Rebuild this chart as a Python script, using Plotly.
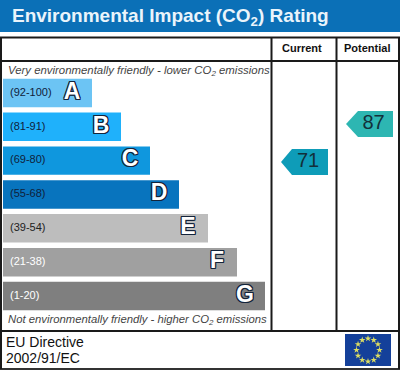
import numpy as np
import plotly.graph_objects as go

title = "Environmental Impact (CO<sub>2</sub>) Rating"
column_labels = ["Current", "Potential"]
letters = ["A", "B", "C", "D", "E", "F", "G"]
ranges = ["(92-100)", "(81-91)", "(69-80)", "(55-68)", "(39-54)", "(21-38)", "(1-20)"]
bar_lengths = [89, 118, 147, 176, 205, 234, 262]
bar_colors = ["#6CC4F4", "#1FB1FB", "#0F97DE", "#0874BE", "#BDBDBD", "#A0A0A0", "#7F7F7F"]
range_colors = ["#10213A", "#10213A", "#10213A", "#10213A", "#222222", "#FFFFFF", "#FFFFFF"]
current_score = 71
potential_score = 87
top_note = "Very environmentally friendly - lower CO<sub>2</sub> emissions"
bottom_note = "Not environmentally friendly - higher CO<sub>2</sub> emissions"
footer_lines = ["EU Directive", "2002/91/EC"]

W, H = 400, 370
FONT = "Liberation Sans"
idx = list(range(len(letters)))
bars_left = 3
band_top, band_step = 76.0, 33.85

fig = go.Figure()

fig.add_trace(go.Bar(
    x=bar_lengths, y=idx, base=bars_left, orientation="h", yaxis="y2",
    width=0.84, marker=dict(color=bar_colors, line_width=0), hoverinfo="skip",
))
fig.add_trace(go.Scatter(
    x=[10] * 7, y=idx, yaxis="y2", mode="text", text=ranges, textposition="middle right",
    textfont=dict(family=FONT, size=11, color=range_colors), hoverinfo="skip",
))
outline = ",".join(f"{a}px {b}px 0 #13233A" for a, b in
                   [(1, 0), (-1, 0), (0, 1), (0, -1), (1, 1), (-1, -1), (1, -1), (-1, 1)])
fig.add_trace(go.Scatter(
    x=[bars_left + v - 20 for v in bar_lengths], y=idx, yaxis="y2", mode="text", text=letters,
    textposition="middle center",
    textfont=dict(family=FONT, size=23, color="#FFFFFF", weight="bold", shadow=outline),
    hoverinfo="skip",
))

half = 13 / band_step
arrows = [
    (current_score, 2.04, 281, 292, 328, "#0E9CB8"),
    (potential_score, 0.918, 346, 358, 393, "#2DB6B2"),
]
for score, pos, tip, left, right, col in arrows:
    fig.add_trace(go.Scatter(
        x=[tip, left, right, right, left, tip],
        y=[pos, pos - half, pos - half, pos + half, pos + half, pos],
        yaxis="y2", mode="lines", fill="toself", fillcolor=col, line_width=0, hoverinfo="skip",
    ))
    fig.add_trace(go.Scatter(
        x=[(left + right) / 2 - 2], y=[pos], yaxis="y2", mode="text", text=[str(score)],
        textposition="middle center",
        textfont=dict(family=FONT, size=20, color="#12303A"), hoverinfo="skip",
    ))

ang = np.arange(12) * np.pi / 6
fig.add_trace(go.Scatter(
    x=368 + 11.5 * np.cos(ang), y=350 + 11.5 * np.sin(ang), mode="markers",
    marker=dict(symbol="star", size=5, color="#DCDD62", line_width=0), hoverinfo="skip",
))

line = dict(color="#1A1A1A", width=2)
shapes = [
    dict(type="rect", x0=0, x1=W, y0=0, y1=32, fillcolor="#0B70B7", line_width=0, layer="below"),
    dict(type="rect", x0=345, x1=391, y0=334, y1=366, fillcolor="#14409A", line_width=0, layer="below"),
    dict(type="line", x0=0, x1=W, y0=37.5, y1=37.5, line=line),
    dict(type="line", x0=0, x1=W, y0=61, y1=61, line=line),
    dict(type="line", x0=0, x1=W, y0=331, y1=331, line=line),
    dict(type="line", x0=0, x1=W, y0=369, y1=369, line=dict(color="#333333", width=2)),
    dict(type="line", x0=1, x1=1, y0=37, y1=369, line=line),
    dict(type="line", x0=399, x1=399, y0=37, y1=369, line=line),
    dict(type="line", x0=271.5, x1=271.5, y0=37, y1=331, line=line),
    dict(type="line", x0=336.5, x1=336.5, y0=37, y1=331, line=line),
]

def note(x, y, text, size, color="#111111", anchor="left", **font):
    return dict(x=x, y=y, xref="x", yref="y", text=text, showarrow=False, xanchor=anchor,
                yanchor="middle", align=anchor,
                font=dict(family=FONT, size=size, color=color, **font))

annotations = [
    note(10, 17, title, 19, "#EAF4FB", weight="bold"),
    note(302, 48, column_labels[0], 11, "#111111", "center", weight="bold"),
    note(367, 48, column_labels[1], 11, "#111111", "center", weight="bold"),
    note(6, 71, top_note, 11.4, "#444444", style="italic"),
    note(6, 320, bottom_note, 11.3, "#444444", style="italic"),
    note(4, 342, footer_lines[0], 14, "#111111"),
    note(4, 358, footer_lines[1], 14, "#111111"),
]

fig.update_layout(
    width=W, height=H, margin=dict(l=0, r=0, t=0, b=0),
    paper_bgcolor="white", plot_bgcolor="white", showlegend=False, barmode="overlay",
    xaxis=dict(range=[0, W], visible=False, fixedrange=True),
    yaxis=dict(range=[H, 0], visible=False, fixedrange=True),
    yaxis2=dict(range=[(H - band_top) / band_step - 0.5, -band_top / band_step - 0.5],
                visible=False, overlaying="y", fixedrange=True, anchor="x"),
    shapes=shapes, annotations=annotations,
)
fig.write_html("out.html", config=dict(displayModeBar=False),
               post_script="document.body.style.margin='0';document.documentElement.style.overflow='hidden';")
